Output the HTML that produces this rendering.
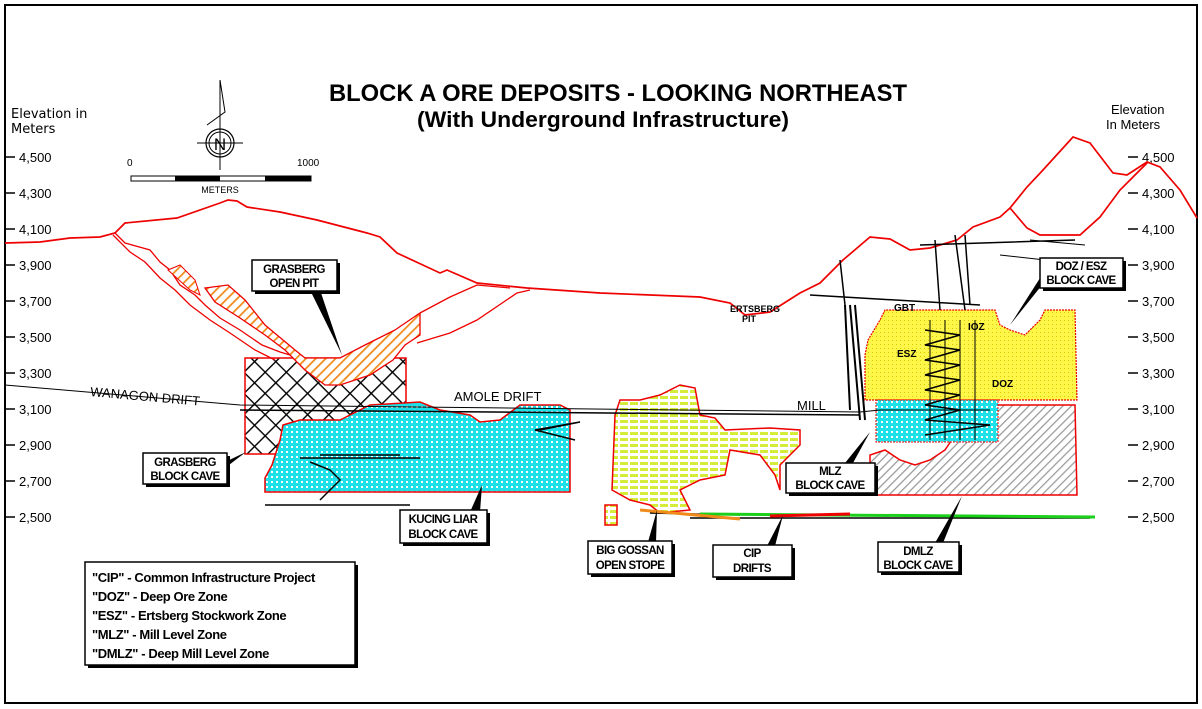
<!DOCTYPE html>
<html><head><meta charset="utf-8"><style>
html,body{margin:0;padding:0;background:#fff;}
svg{display:block;}
text{font-family:"Liberation Sans",sans-serif;}
.ax{font-size:14px;fill:#000;}
.lb{font-size:11.5px;font-weight:bold;letter-spacing:-0.6px;text-anchor:middle;}
</style></head><body>
<svg width="1202" height="709" viewBox="0 0 1202 709" xmlns="http://www.w3.org/2000/svg">
<defs>
<pattern id="xh" width="15" height="15" patternUnits="userSpaceOnUse" patternTransform="rotate(45)">
<rect width="15" height="15" fill="#fff"/><path d="M0 0H15M0 0V15" stroke="#000" stroke-width="2.8"/></pattern>
<pattern id="cy" width="5" height="5" patternUnits="userSpaceOnUse">
<rect width="5" height="5" fill="#1ee0e8"/><rect x="1" y="1" width="2" height="2" fill="#fff"/></pattern>
<pattern id="yg" width="10" height="6" patternUnits="userSpaceOnUse">
<rect width="10" height="6" fill="#fff"/><rect x="0" y="0" width="8" height="3" fill="#d6ec3a"/></pattern>
<pattern id="yl" width="4" height="4" patternUnits="userSpaceOnUse">
<rect width="4" height="4" fill="#fff64a"/><rect x="0" y="0" width="1" height="1" fill="#d8c800"/></pattern>
<pattern id="gr" width="6" height="6" patternUnits="userSpaceOnUse" patternTransform="rotate(-45)">
<rect width="6" height="6" fill="#fff"/><path d="M0 0H6" stroke="#999" stroke-width="2.5"/></pattern>
<pattern id="or" width="7" height="7" patternUnits="userSpaceOnUse" patternTransform="rotate(-45)">
<rect width="7" height="7" fill="#fff"/><path d="M0 0H7" stroke="#f08a1a" stroke-width="3.5"/></pattern>
</defs>
<rect x="5" y="5" width="1192" height="698" fill="#fff" stroke="#000" stroke-width="2"/>

<!-- title -->
<text x="618" y="101" font-size="24" font-weight="bold" text-anchor="middle" textLength="578" lengthAdjust="spacingAndGlyphs">BLOCK A ORE DEPOSITS - LOOKING NORTHEAST</text>
<text x="603" y="127" font-size="22" text-anchor="middle" font-weight="bold" textLength="372" lengthAdjust="spacingAndGlyphs">(With Underground Infrastructure)</text>

<!-- left axis -->
<text x="11" y="118" class="ax" style="font-family:'DejaVu Sans';font-size:13px">Elevation in</text>
<text x="11" y="133" class="ax" style="font-family:'DejaVu Sans';font-size:13px">Meters</text>
<g stroke="#000" stroke-width="1.5">
<path d="M5 157H15M5 193H15M5 229H15M5 265H15M5 301H15M5 337H15M5 373H15M5 409H15M5 445H15M5 481H15M5 517H15"/>
<path d="M1128 157H1138M1128 193H1138M1128 229H1138M1128 265H1138M1128 301H1138M1128 337H1138M1128 373H1138M1128 409H1138M1128 445H1138M1128 481H1138M1128 517H1138"/>
</g>
<g class="ax" style="font-family:'DejaVu Sans';font-size:13px">
<text x="19" y="162">4,500</text><text x="19" y="198">4,300</text><text x="19" y="234">4,100</text><text x="19" y="270">3,900</text><text x="19" y="306">3,700</text><text x="19" y="342">3,500</text><text x="19" y="378">3,300</text><text x="19" y="414">3,100</text><text x="19" y="450">2,900</text><text x="19" y="486">2,700</text><text x="19" y="522">2,500</text>
<text x="1142" y="162">4,500</text><text x="1142" y="198">4,300</text><text x="1142" y="234">4,100</text><text x="1142" y="270">3,900</text><text x="1142" y="306">3,700</text><text x="1142" y="342">3,500</text><text x="1142" y="378">3,300</text><text x="1142" y="414">3,100</text><text x="1142" y="450">2,900</text><text x="1142" y="486">2,700</text><text x="1142" y="522">2,500</text>
<text x="1111" y="114">Elevation</text><text x="1106" y="129">In Meters</text>
</g>

<!-- compass & scale -->
<g stroke="#000" fill="none">
<path d="M220 80 L225 112 L207 125 M220 80V170"/>
<circle cx="220" cy="143" r="14" stroke-width="1.2"/><circle cx="220" cy="143" r="11"/>
<path d="M197 143H243"/>
</g>
<text x="220" y="150" font-size="17" text-anchor="middle" font-family="Liberation Serif">N</text>
<text x="127" y="166" font-size="10">0</text><text x="297" y="166" font-size="10">1000</text>
<rect x="131" y="176" width="180" height="5" fill="#fff" stroke="#000"/>
<rect x="175" y="176" width="45" height="5" fill="#000"/><rect x="265" y="176" width="46" height="5" fill="#000"/>
<text x="220" y="193" font-size="9" text-anchor="middle">METERS</text>

<!-- grasberg block cave -->
<rect x="245" y="358" width="161" height="96" fill="url(#xh)" stroke="#e00" stroke-width="1.5"/>
<!-- kucing liar -->
<path d="M265 492 L265 478 L272 465 L280 440 L283 425 L300 420 L340 420 L370 405 L420 402 L440 410 L470 415 L480 422 L500 420 L520 405 L560 405 L570 410 L570 492 Z" fill="url(#cy)" stroke="#e00" stroke-width="1.5"/>
<!-- open pit outlines -->
<g fill="none" stroke="#e00" stroke-width="1.3">
<path d="M115 233 L125 243 L150 250 L160 262 L170 270 L180 285 L195 295 L205 305 L220 318 L240 330 L262 345 L280 352 L300 358"/>
<path d="M113 235 L130 252 L145 262 L160 278 L175 290 L190 305 L210 320 L230 333 L255 350 L275 360"/>
<path d="M420 313 L450 297 L477 285 L510 288"/>
<path d="M417 343 L450 333 L477 320 L517 293 L530 290"/>
</g>
<path d="M168 270 L180 265 L195 280 L200 295 L190 290 Z" fill="url(#or)" stroke="#e00"/>
<path d="M205 288 L228 285 L245 300 L265 325 L295 350 L305 358 L340 358 L365 345 L395 330 L420 313 L420 335 L405 345 L393 360 L370 375 L340 385 L325 385 L305 370 L285 350 L265 335 L240 318 L215 302 Z" fill="url(#or)" stroke="#e00" stroke-width="1.3"/>

<!-- big gossan -->
<path d="M615 415 L620 400 L640 400 L660 395 L680 385 L695 388 L700 415 L715 418 L725 430 L770 428 L800 430 L800 445 L790 455 L780 465 L780 490 L775 475 L760 455 L730 450 L725 475 L700 480 L680 490 L690 510 L660 513 L650 505 L630 500 L612 490 Z" fill="url(#yg)" stroke="#e00" stroke-width="1.5"/>
<rect x="605" y="505" width="12" height="20" fill="url(#yg)" stroke="#e00" stroke-width="1.5"/>
<!-- DOZ -->
<path d="M865 355 L868 340 L880 320 L885 310 L995 310 L1000 325 L1010 330 L1025 335 L1040 320 L1045 310 L1075 310 L1077 400 L865 400 Z" fill="url(#yl)" stroke="#e00" stroke-width="1.2" stroke-dasharray="2 1"/>
<!-- DMLZ -->
<path d="M870 495 L870 455 L885 450 L900 460 L915 465 L930 460 L945 450 L955 435 L960 425 L980 410 L990 405 L1075 405 L1077 495 Z" fill="url(#gr)" stroke="#e00" stroke-width="1.5"/>
<!-- MLZ -->
<rect x="876" y="400" width="122" height="42" fill="url(#cy)" stroke="#e00" stroke-width="1" stroke-dasharray="2 1"/>

<!-- topography -->
<g fill="none" stroke="#e00" stroke-width="1.7">
<path d="M5 243 L40 242 L70 238 L100 237 L115 233 L125 223 L177 218 L220 203 L228 200 L237 201 L247 207 L280 212 L317 220 L367 233 L380 237 L397 253 L440 273 L447 270 L477 283 L527 288 L600 293 L700 297 L730 303 L745 315 L770 312 L800 293 L820 283 L843 260 L870 237 L890 239 L910 250 L930 248 L957 240 L973 227 L1000 217 L1010 208 L1027 187 L1043 170 L1073 137 L1090 143 L1113 173 L1127 175 L1147 162 L1160 167 L1180 190 L1197 218"/>
<path d="M1010 208 L1027 228 L1040 235 L1080 235 L1100 217 L1120 190 L1148 162"/>
</g>

<!-- drifts -->
<g stroke="#000" fill="none" stroke-width="1.5">
<path d="M5 385 L240 405 L860 412 L880 410 L990 410" stroke-width="1"/>
<path d="M240 410 L860 415"/>
<path d="M320 455 L400 455 M300 458 L420 458 M310 462 L330 470 L340 480 L330 490 L320 500 M265 505 L410 505"/>
<path d="M540 430 L580 422 L535 430 L575 440"/>
<path d="M850 305 L860 420 M855 305 L865 420 M845 305 L850 410" stroke-width="2"/>
<path d="M810 295 L980 305 M840 260 L845 305 M935 240 L940 310 M955 235 L965 310 M965 235 L970 305 M920 245 L1075 240"/>
<path d="M930 320 L930 440 M945 320 L945 440 M960 320 L960 440 M975 320 L975 440" stroke-width="1"/>
<path d="M925 330 L960 335 L925 345 L960 350 L925 360 L960 365 L925 375 L960 380 L925 390 L960 395 L925 405 L960 410 L925 420 L990 425 L925 435"/>
<path d="M1000 255 L1090 265 M1030 240 L1085 245" stroke-width="1"/>
<path d="M650 513 L740 515 M690 518 L1090 518"/>
</g>
<g stroke-width="3" fill="none">
<path d="M700 514 L1095 517" stroke="#1bd01b"/>
<path d="M640 510 L740 519" stroke="#f08a1a"/>
<path d="M770 516 L850 514" stroke="#e00"/>
</g>
<g font-size="10" font-weight="bold">
<text x="894" y="311">GBT</text><text x="897" y="357">ESZ</text><text x="968" y="330">IOZ</text><text x="992" y="387">DOZ</text>
</g>
<text x="730" y="312" font-size="9" font-weight="bold">ERTSBERG</text><text x="742" y="322" font-size="9" font-weight="bold">PIT</text>
<g style="font-family:'DejaVu Sans';font-size:13px">
<text x="90" y="396" transform="rotate(5 90 396)">WANAGON DRIFT</text>
<text x="454" y="401">AMOLE DRIFT</text>
<text x="797" y="410">MILL</text>
</g>

<!-- labels -->
<g fill="#000">
<path d="M310 290 L320 290 L342 355 Z"/>
<path d="M225 462 L225 468 L246 452 Z"/>
<path d="M470 512 L480 512 L482 485 Z"/>
<path d="M648 542 L656 542 L657 510 Z"/>
<path d="M767 546 L775 546 L783 515 Z"/>
<path d="M845 463 L853 463 L870 432 Z"/>
<path d="M935 543 L943 543 L962 496 Z"/>
<path d="M1042 275 L1042 285 L1010 325 Z"/>
</g>
<g>
<rect x="255" y="263" width="85" height="31" fill="#000"/><rect x="252" y="260" width="85" height="31" fill="#fff" stroke="#000" stroke-width="1.5"/>
<text x="294" y="273" class="lb">GRASBERG</text><text x="294" y="287" class="lb">OPEN PIT</text>
<rect x="146" y="456" width="84" height="31" fill="#000"/><rect x="143" y="453" width="84" height="31" fill="#fff" stroke="#000" stroke-width="1.5"/>
<text x="185" y="466" class="lb">GRASBERG</text><text x="185" y="480" class="lb">BLOCK CAVE</text>
<rect x="403" y="513" width="87" height="33" fill="#000"/><rect x="400" y="510" width="87" height="33" fill="#fff" stroke="#000" stroke-width="1.5"/>
<text x="443" y="523" class="lb">KUCING LIAR</text><text x="443" y="538" class="lb">BLOCK CAVE</text>
<rect x="591" y="544" width="84" height="33" fill="#000"/><rect x="588" y="541" width="84" height="33" fill="#fff" stroke="#000" stroke-width="1.5"/>
<text x="630" y="554" class="lb">BIG GOSSAN</text><text x="630" y="569" class="lb">OPEN STOPE</text>
<rect x="716" y="548" width="79" height="32" fill="#000"/><rect x="713" y="545" width="79" height="32" fill="#fff" stroke="#000" stroke-width="1.5"/>
<text x="752" y="557" class="lb">CIP</text><text x="752" y="572" class="lb">DRIFTS</text>
<rect x="789" y="466" width="89" height="30" fill="#000"/><rect x="786" y="463" width="89" height="30" fill="#fff" stroke="#000" stroke-width="1.5"/>
<text x="830" y="475" class="lb">MLZ</text><text x="830" y="489" class="lb">BLOCK CAVE</text>
<rect x="881" y="545" width="81" height="30" fill="#000"/><rect x="878" y="542" width="81" height="30" fill="#fff" stroke="#000" stroke-width="1.5"/>
<text x="918" y="555" class="lb">DMLZ</text><text x="918" y="569" class="lb">BLOCK CAVE</text>
<rect x="1043" y="261" width="83" height="30" fill="#000"/><rect x="1040" y="258" width="83" height="30" fill="#fff" stroke="#000" stroke-width="1.5"/>
<text x="1081" y="270" class="lb">DOZ / ESZ</text><text x="1081" y="284" class="lb">BLOCK CAVE</text>
</g>

<!-- legend -->
<rect x="88" y="565" width="270" height="103" fill="#000"/>
<rect x="85" y="562" width="270" height="103" fill="#fff" stroke="#000" stroke-width="1.5"/>
<g font-size="13" font-weight="bold" letter-spacing="-0.4">
<text x="92" y="582">"CIP" - Common Infrastructure Project</text>
<text x="92" y="601">"DOZ" - Deep Ore Zone</text>
<text x="92" y="620">"ESZ" -  Ertsberg Stockwork Zone</text>
<text x="92" y="639">"MLZ" - Mill Level Zone</text>
<text x="92" y="658">"DMLZ" - Deep Mill Level Zone</text>
</g>
</svg>
</body></html>
